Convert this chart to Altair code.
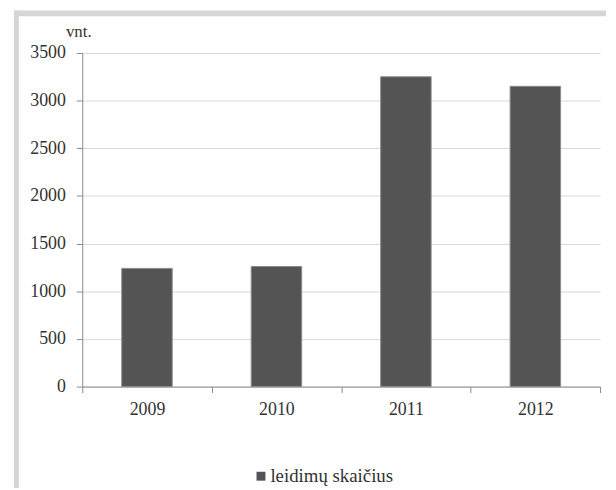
import altair as alt
import pandas as pd

years = ["2009", "2010", "2011", "2012"]
values = [1240, 1260, 3250, 3150]
series_name = "leidimų skaičius"
y_ticks = [0, 500, 1000, 1500, 2000, 2500, 3000, 3500]

df = pd.DataFrame({"metai": years, "vnt": values, "serija": [series_name] * len(years)})

W, H = 523, 337
FONT = "Liberation Serif"
TXT = "#333333"
AX = "#8a8a8a"
BAR = "#545454"
FRAME = "#d6d6d6"

bars = alt.Chart(df).mark_bar(
    width=alt.RelativeBandSize(0.39), stroke="#8c8c8c", strokeWidth=1
).encode(
    x=alt.X(
        "metai:N",
        sort=years,
        scale=alt.Scale(paddingInner=0, paddingOuter=0),
        axis=alt.Axis(
            title=None, labelAngle=0, tickBand="extent", tickSize=6,
            labelPadding=8, labelFont=FONT, labelFontSize=18, labelColor=TXT,
            domainColor=AX, tickColor=AX, grid=False,
        ),
    ),
    y=alt.Y(
        "vnt:Q",
        scale=alt.Scale(domain=[0, 3500]),
        axis=alt.Axis(
            values=y_ticks, format="d", title="vnt.", titleAngle=0, titleAlign="right",
            titleBaseline="alphabetic", titleX=9, titleY=-17,
            titleFont=FONT, titleFontSize=17, titleFontWeight="normal", titleColor=TXT,
            tickSize=6, labelPadding=11, labelFont=FONT, labelFontSize=18, labelColor=TXT,
            domainColor=AX, tickColor=AX, grid=True, gridColor="#d9d9d9", gridWidth=1,
        ),
    ),
    color=alt.Color(
        "serija:N",
        scale=alt.Scale(range=[BAR]),
        legend=alt.Legend(
            title=None, orient="none", legendX=171, legendY=418,
            symbolType="square", symbolSize=81, symbolStrokeWidth=0,
            labelFont=FONT, labelFontSize=19, labelColor=TXT, labelOffset=0,
        ),
    ),
)

one = pd.DataFrame({"a": [0]})
frame_top = alt.Chart(one).mark_rect(color=FRAME).encode(
    x=alt.value(-69), x2=alt.value(529), y=alt.value(-43), y2=alt.value(-37)
)
frame_left = alt.Chart(one).mark_rect(color=FRAME).encode(
    x=alt.value(-69), x2=alt.value(-64), y=alt.value(-43), y2=alt.value(440)
)

chart = alt.layer(frame_top, frame_left, bars).properties(
    width=W, height=H,
    autosize=alt.AutoSizeParams(type="none"),
    padding={"left": 75, "top": 43, "right": 8, "bottom": 100},
).configure(
    background="white"
).configure_view(stroke=None)

chart.save("out.html", embed_options={"renderer": "svg", "actions": False})
